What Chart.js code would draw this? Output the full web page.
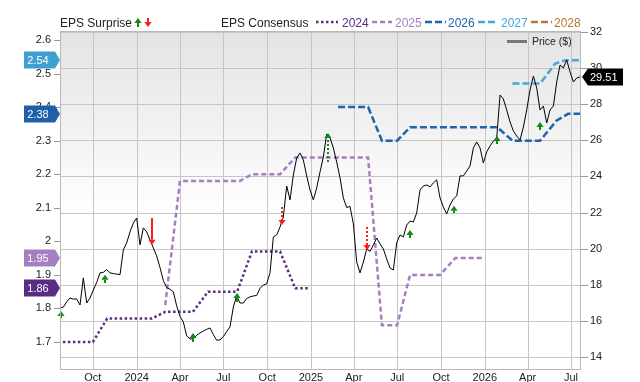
<!DOCTYPE html>
<html><head><meta charset="utf-8">
<script src="https://cdn.jsdelivr.net/npm/chart.js@4.4.1/dist/chart.umd.min.js"></script>
<style>html,body{margin:0;padding:0;background:#fff;overflow:hidden}canvas{display:block}</style>
</head><body>
<canvas id="c" width="640" height="382"></canvas>
<script>
// ---------- DATA ----------
const tickDates = ["2023-10-01","2024-01-01","2024-04-01","2024-07-01","2024-10-01","2025-01-01","2025-04-01","2025-07-01","2025-10-01","2026-01-01","2026-04-01","2026-07-01"];
const tickLabels = ["Oct","2024","Apr","Jul","Oct","2025","Apr","Jul","Oct","2026","Apr","Jul"];
const leftTicks = [1.7,1.8,1.9,2.0,2.1,2.2,2.3,2.4,2.5,2.6];
const rightTicks = [14,16,18,20,22,24,26,28,30,32];

// weekly closing price ($), starting this date
const priceStart = "2023-07-24";
const priceValues = [16.72,16.76,17.06,17.27,17.20,17.22,16.88,18.38,16.99,17.27,
17.71,18.12,18.66,18.69,18.84,18.66,18.62,18.59,18.56,19.93,
20.32,20.93,21.42,21.70,20.21,21.15,20.93,20.48,20.04,19.60,
18.95,18.23,17.85,17.75,17.61,16.83,16.25,15.94,15.17,15.00,
15.00,15.21,15.33,15.44,15.53,15.61,15.24,14.93,14.95,15.13,
15.41,15.67,16.77,17.38,16.99,16.99,17.24,17.33,17.38,17.41,
17.80,17.99,18.05,18.66,20.65,20.76,21.20,21.76,23.47,22.70,
24.08,25.02,25.30,24.91,24.03,23.25,22.70,23.36,24.25,25.08,
26.35,26.13,25.58,24.80,23.92,22.81,22.28,22.34,21.37,19.26,
18.66,19.26,19.98,19.85,20.21,20.59,20.26,19.98,19.43,18.93,
18.82,20.32,20.76,20.65,21.31,21.53,21.48,21.98,23.25,23.47,
23.53,23.42,23.64,23.81,22.81,22.31,21.92,22.42,22.75,22.92,
24.03,24.03,24.30,24.58,25.58,25.91,25.58,24.75,25.36,25.69,
25.96,26.13,28.51,28.29,27.68,27.02,26.52,26.24,26.02,26.74,
27.68,28.79,29.56,28.90,27.68,27.90,26.96,27.68,27.90,29.23,
30.17,30.01,30.45,29.79,29.23,29.45,29.51];

// EPS consensus by fiscal year
const c2024Dates = ["2023-07-30","2023-10-01","2023-10-31","2024-02-02","2024-03-01","2024-04-28","2024-05-30","2024-07-30","2024-08-30","2024-10-28","2024-11-29","2024-12-30"];
const c2024Values = [1.70,1.70,1.77,1.77,1.79,1.79,1.85,1.85,1.97,1.97,1.86,1.86];
const c2025Dates = ["2024-03-01","2024-04-01","2024-08-05","2024-08-30","2024-10-28","2024-11-29","2025-05-01","2025-05-30","2025-07-01","2025-07-28","2025-09-29","2025-10-31","2025-12-29"];
const c2025Values = [1.81,2.18,2.18,2.20,2.20,2.25,2.25,1.75,1.75,1.90,1.90,1.95,1.95];
const c2026Dates = ["2025-02-27","2025-05-01","2025-05-30","2025-07-01","2025-07-28","2026-01-27","2026-02-28","2026-04-27","2026-06-01","2026-06-25","2026-07-20"];
const c2026Values = [2.40,2.40,2.30,2.30,2.34,2.34,2.30,2.30,2.36,2.38,2.38];
const c2027Dates = ["2026-02-28","2026-04-27","2026-05-29","2026-06-20","2026-07-20"];
const c2027Values = [2.47,2.47,2.53,2.54,2.54];

// EPS surprises (arrow tail / tip in price $)
const surpriseDates = ["2023-07-27","2023-10-26","2024-02-02","2024-04-29","2024-07-29","2024-11-01","2025-02-05","2025-04-28","2025-07-28","2025-10-29","2026-01-26","2026-04-27"];
const surpriseTail = [16.16,18.10,21.70,14.83,17.05,22.31,24.80,21.20,20.59,21.98,25.80,26.57];
const surpriseTip  = [16.55,18.55,20.21,15.33,17.55,21.31,26.41,19.93,21.04,22.37,26.24,27.02];
const surpriseBeat = [true,true,false,true,true,false,true,false,true,true,true,true];
const surpriseRevised = [false,false,false,false,false,true,true,true,false,false,false,false];

// ---------- CHART ----------
const FONT = "'Liberation Sans', Arial, Helvetica, sans-serif";
const DAY = 86400000;
const ms = d => Date.parse(d);
const series = (dates, vals) => dates.map((d,i)=>({x:ms(d), y:vals[i]}));
const priceData = priceValues.map((v,i)=>({x: ms(priceStart)+i*7*DAY, y:v}));

const COL = {y2024:'#5b2c82', y2025:'#a67fc1', y2026:'#1f62ae', y2027:'#47a6d6', y2028:'#b07a2c'};
const GREEN = '#118a11', RED = '#ff1c1c';
const GRID = '#c6c6c6';

function drawArrow(ctx, x, yTail, yTip, color, dashed){
  const dir = yTip < yTail ? -1 : 1;
  const headLen = 5, half = 3.6;
  const baseY = yTip - dir*headLen;
  ctx.save();
  ctx.strokeStyle = color; ctx.lineWidth = 2;
  ctx.setLineDash(dashed ? [2,2] : []);
  ctx.beginPath(); ctx.moveTo(x, yTail); ctx.lineTo(x, baseY); ctx.stroke();
  ctx.setLineDash([]);
  ctx.fillStyle = color;
  ctx.beginPath(); ctx.moveTo(x, yTip); ctx.lineTo(x-half, baseY); ctx.lineTo(x+half, baseY); ctx.closePath(); ctx.fill();
  ctx.restore();
}

// background gradient plus grid (grid positions come from the scales)
const bgPlugin = {
  id:'bg',
  beforeDatasetsDraw(chart){
    const {ctx, chartArea:a} = chart;
    ctx.save();
    const g = ctx.createLinearGradient(0, a.top, 0, a.bottom);
    g.addColorStop(0, '#e3e3e3');
    g.addColorStop(0.55, '#ffffff');
    g.addColorStop(1, '#ffffff');
    ctx.fillStyle = g; ctx.fillRect(a.left, a.top, a.right-a.left, a.bottom-a.top);
    ctx.strokeStyle = GRID; ctx.lineWidth = 1;
    ctx.beginPath();
    chart.scales.x.ticks.forEach(t=>{
      const x = Math.round(chart.scales.x.getPixelForValue(t.value)) + 0.5;
      ctx.moveTo(x, a.top); ctx.lineTo(x, a.bottom);
    });
    chart.scales.y1.ticks.forEach(t=>{
      const y = Math.round(chart.scales.y1.getPixelForValue(t.value)) + 0.5;
      ctx.moveTo(a.left, y); ctx.lineTo(a.right, y);
    });
    ctx.stroke();
    ctx.restore();
  }
};

const arrowPlugin = {
  id:'arrows',
  afterDatasetsDraw(chart){
    const {ctx} = chart; const xs = chart.scales.x, ys = chart.scales.y1;
    surpriseDates.forEach((d,i)=>{
      const x = Math.round(xs.getPixelForValue(ms(d)));
      drawArrow(ctx, x, ys.getPixelForValue(surpriseTail[i]), ys.getPixelForValue(surpriseTip[i]),
        surpriseBeat[i] ? GREEN : RED, surpriseRevised[i]);
    });
  }
};

const overlayPlugin = {
  id:'overlay',
  afterDraw(chart){
    const {ctx, chartArea:a} = chart;
    ctx.save();
    // plot frame
    ctx.strokeStyle = '#b8b8b8'; ctx.lineWidth = 1;
    ctx.strokeRect(a.left+0.5, a.top+0.5, a.right-a.left-1, a.bottom-a.top-1);

    // axis tick marks
    ctx.strokeStyle = '#999'; ctx.beginPath();
    chart.scales.y.ticks.forEach(t=>{
      const y = Math.round(chart.scales.y.getPixelForValue(t.value)) + 0.5;
      ctx.moveTo(a.left-6, y); ctx.lineTo(a.left, y);
    });
    chart.scales.y1.ticks.forEach(t=>{
      const y = Math.round(chart.scales.y1.getPixelForValue(t.value)) + 0.5;
      ctx.moveTo(a.right, y); ctx.lineTo(a.right+7, y);
    });
    ctx.stroke();

    // top legend
    ctx.font = '12px ' + FONT; ctx.textBaseline = 'alphabetic'; ctx.textAlign = 'left';
    ctx.fillStyle = '#222';
    ctx.fillText('EPS Surprise', 60, 27);
    drawArrow(ctx, 138, 27, 18, GREEN, false);
    drawArrow(ctx, 148, 18, 27, RED, false);
    ctx.fillStyle = '#222';
    ctx.fillText('EPS Consensus', 221, 27);
    const items = [
      {t:'2024', c:COL.y2024, dash:[2.5,2.5], x0:316, x1:338, tx:342},
      {t:'2025', c:COL.y2025, dash:[5,3], x0:372, x1:392, tx:395},
      {t:'2026', c:COL.y2026, dash:[7,3], x0:425, x1:446, tx:448},
      {t:'2027', c:COL.y2027, dash:[7,3], x0:478, x1:498, tx:501},
      {t:'2028', c:COL.y2028, dash:[7,3], x0:531, x1:552, tx:554}
    ];
    items.forEach(it=>{
      ctx.strokeStyle = it.c; ctx.lineWidth = 2.5; ctx.setLineDash(it.dash);
      ctx.beginPath(); ctx.moveTo(it.x0, 22); ctx.lineTo(it.x1, 22); ctx.stroke();
      ctx.setLineDash([]);
      ctx.fillStyle = it.c; ctx.fillText(it.t, it.tx, 27);
    });

    // price legend inside plot
    ctx.strokeStyle = '#777'; ctx.lineWidth = 3;
    ctx.beginPath(); ctx.moveTo(507, 41.5); ctx.lineTo(527, 41.5); ctx.stroke();
    ctx.fillStyle = '#222'; ctx.font = '10.5px ' + FONT;
    ctx.fillText('Price ($)', 532, 45);

    // left value badges
    const ysL = chart.scales.y;
    const badges = [
      {v:c2027Values[c2027Values.length-1], c:'#3f9fcf'},
      {v:c2026Values[c2026Values.length-1], c:'#1f5ea8'},
      {v:c2025Values[c2025Values.length-1], c:'#a67fc1'},
      {v:c2024Values[c2024Values.length-1], c:'#5b2c82'}
    ];
    ctx.font = '11px ' + FONT; ctx.textBaseline = 'middle'; ctx.textAlign = 'center';
    badges.forEach(b=>{
      const y = Math.round(ysL.getPixelForValue(b.v));
      ctx.fillStyle = b.c;
      ctx.beginPath();
      ctx.moveTo(24, y-8.5); ctx.lineTo(55, y-8.5); ctx.lineTo(60, y); ctx.lineTo(55, y+8.5); ctx.lineTo(24, y+8.5);
      ctx.closePath(); ctx.fill();
      ctx.fillStyle = '#fff'; ctx.fillText(b.v.toFixed(2), 38, y+0.5);
    });

    // right price badge
    const last = priceValues[priceValues.length-1];
    const yp = Math.round(chart.scales.y1.getPixelForValue(last));
    ctx.fillStyle = '#000';
    ctx.beginPath();
    ctx.moveTo(582, yp); ctx.lineTo(588, yp-8.5); ctx.lineTo(623, yp-8.5); ctx.lineTo(623, yp+8.5); ctx.lineTo(588, yp+8.5);
    ctx.closePath(); ctx.fill();
    ctx.fillStyle = '#fff'; ctx.textAlign = 'left';
    ctx.fillText(last.toFixed(2), 590, yp+0.5);
    ctx.restore();
  }
};

const lineDs = (label, data, color, dash) => ({
  label, data, yAxisID:'y', borderColor:color, borderWidth:2.5, borderDash:dash,
  borderCapStyle:'butt', pointRadius:0, tension:0, fill:false
});

const xGrid = {display:false, drawTicks:false, tickLength:0};
const yGrid = {display:false, drawTicks:true, tickLength:6};

new Chart(document.getElementById('c'), {
  type:'line',
  data:{ datasets:[
    {label:'Price ($)', data:priceData, yAxisID:'y1', borderColor:'#000', borderWidth:1, pointRadius:0, tension:0, fill:false},
    lineDs('2024', series(c2024Dates,c2024Values), COL.y2024, [2.5,2.5]),
    lineDs('2025', series(c2025Dates,c2025Values), COL.y2025, [5,3]),
    lineDs('2026', series(c2026Dates,c2026Values), COL.y2026, [7,3]),
    lineDs('2027', series(c2027Dates,c2027Values), COL.y2027, [7,3])
  ]},
  options:{
    responsive:false, animation:false, devicePixelRatio:1,
    layout:{padding:{top:31, left:0, right:0, bottom:0}},
    plugins:{legend:{display:false}, tooltip:{enabled:false}},
    scales:{
      x:{
        type:'linear', min:ms('2023-07-24'), max:ms('2026-07-22'),
        afterBuildTicks:s=>{ s.ticks = tickDates.map(d=>({value:ms(d)})); },
        afterFit:s=>{ s.height = 12; },
        ticks:{autoSkip:false, maxRotation:0, minRotation:0, padding:1, color:'#222',
          font:{family:FONT, size:11}, callback:(v,i)=>tickLabels[i]},
        grid:xGrid,
        border:{display:false}
      },
      y:{
        position:'left', min:1.6166, max:2.6268,
        afterBuildTicks:s=>{ s.ticks = leftTicks.map(v=>({value:v})); },
        afterFit:s=>{ s.width = 60; },
        ticks:{color:'#222', padding:3, font:{family:FONT, size:11}, callback:v=>String(+Number(v).toFixed(1))},
        grid:yGrid,
        border:{display:false}
      },
      y1:{
        position:'right', min:13.28, max:32.055,
        afterBuildTicks:s=>{ s.ticks = rightTicks.map(v=>({value:v})); },
        afterFit:s=>{ s.width = 59; },
        ticks:{color:'#222', padding:3, font:{family:FONT, size:11}, callback:v=>String(v)},
        grid:yGrid,
        border:{display:false}
      }
    }
  },
  plugins:[bgPlugin, arrowPlugin, overlayPlugin]
});
</script>
</body></html>
